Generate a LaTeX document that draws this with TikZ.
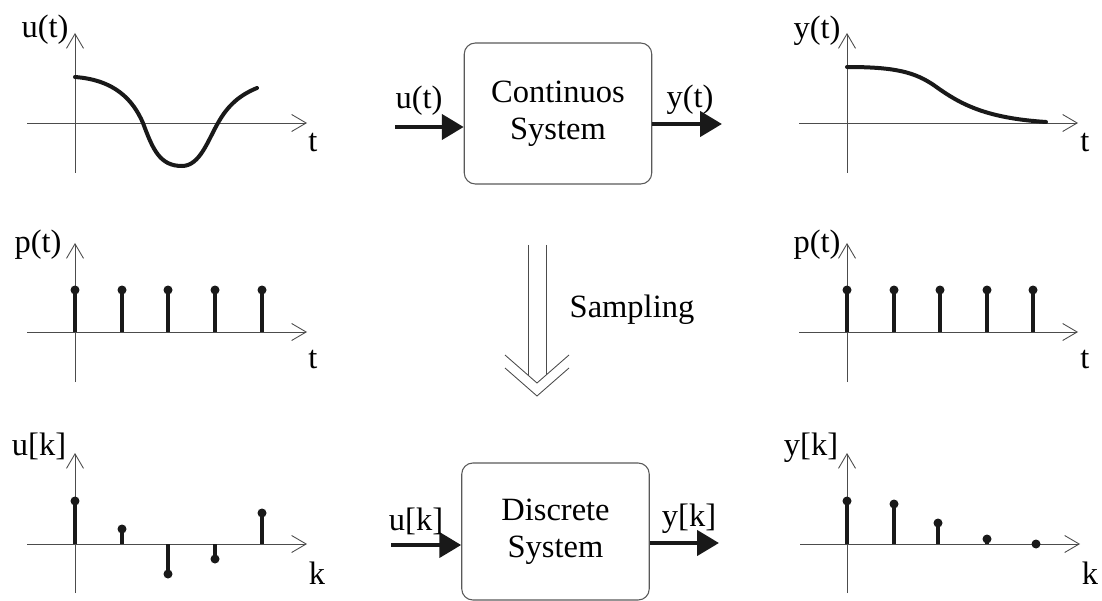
\documentclass[tikz,border=0pt]{standalone}
\usepackage{fontspec}
\setmainfont{Liberation Serif}
\usetikzlibrary{arrows.meta}

\tikzset{
  axis/.style={draw=black!70, line width=0.5pt,
    -{Straight Barb[length=2.9mm, width=3.4mm]}},
  curve/.style={line width=0.08cm, black!90, line cap=round},
  stem/.style={line width=0.07cm, black!90},
  sysbox/.style={draw=black!65, line width=0.6pt, rounded corners=0.22cm,
    minimum width=3.75cm, align=center, inner sep=0pt,
    font=\fontsize{18.5}{21}\selectfont},
  sigarrow/.style={line width=0.09cm, black!90,
    -{Triangle[length=4.4mm, width=5mm]}},
  lbl/.style={inner sep=0pt, font=\fontsize{18.5}{21}\selectfont},
  sampline/.style={draw=black!70, line width=0.5pt},
}

\begin{document}
\begin{tikzpicture}[x=0.02cm, y=-0.02cm]
        \useasboundingbox (0, 0) rectangle (1102, 601);
        % continuous input u(t)
        \draw[axis] (27, 123) -- (307, 123);
        \draw[axis] (75, 173) -- (75, 33);
        \node[lbl] (utlbl) at (45, 30) {u(t)};
        \node[lbl] (utaxis) at (313, 143) {t};
        \draw[curve] (75, 77) .. controls (115, 80) and (133, 100) .. (143, 123)
        .. controls (153, 150) and (160, 166) .. (182, 166)
        .. controls (200, 166) and (208, 140) .. (218, 123)
        .. controls (228, 105) and (240, 95) .. (257, 88);
        % continuous system
        \node[sysbox, minimum height=2.82cm] (contsys) at (558, 113.5)
        {Continuos\\System};
        \coordinate (uin) at (395, 127);
        \coordinate (yout) at (722, 124);
        \draw[sigarrow] (uin) -- (contsys.west |- uin);
        \draw[sigarrow] (contsys.east |- yout) -- (yout);
        \node[lbl] (uinlbl) at (419, 101) {u(t)};
        \node[lbl] (youtlbl) at (690, 100) {y(t)};
        % continuous output y(t)
        \draw[axis] (799, 123) -- (1078, 123);
        \draw[axis] (847, 173) -- (847, 33);
        \node[lbl] (ytlbl) at (817, 31) {y(t)};
        \node[lbl] (ytaxis) at (1085, 143) {t};
        \draw[curve] (847, 67) .. controls (895, 67) and (915, 72) .. (935, 86)
        .. controls (960, 104) and (985, 118) .. (1046, 122);
        % pulse train, left
        \draw[axis] (27, 332) -- (307, 332);
        \draw[axis] (75, 382) -- (75, 243);
        \node[lbl] (ptlbl) at (38, 245) {p(t)};
        \node[lbl] (ptaxis) at (313, 360) {t};
        \draw[stem] (75, 332) -- (75, 290);
        \draw[stem] (122, 332) -- (122, 290);
        \draw[stem] (168, 332) -- (168, 290);
        \draw[stem] (215, 332) -- (215, 290);
        \draw[stem] (262, 332) -- (262, 290);
        \fill[black!90] (75, 290) circle (0.09cm);
        \fill[black!90] (122, 290) circle (0.09cm);
        \fill[black!90] (168, 290) circle (0.09cm);
        \fill[black!90] (215, 290) circle (0.09cm);
        \fill[black!90] (262, 290) circle (0.09cm);
        % pulse train, right
        \draw[axis] (799, 332) -- (1078, 332);
        \draw[axis] (847, 382) -- (847, 243);
        \node[lbl] (ptlblr) at (817, 245) {p(t)};
        \node[lbl] (ptaxisr) at (1085, 360) {t};
        \draw[stem] (847, 332) -- (847, 290);
        \draw[stem] (894, 332) -- (894, 290);
        \draw[stem] (940, 332) -- (940, 290);
        \draw[stem] (987, 332) -- (987, 290);
        \draw[stem] (1033, 332) -- (1033, 290);
        \fill[black!90] (847, 290) circle (0.09cm);
        \fill[black!90] (894, 290) circle (0.09cm);
        \fill[black!90] (940, 290) circle (0.09cm);
        \fill[black!90] (987, 290) circle (0.09cm);
        \fill[black!90] (1033, 290) circle (0.09cm);
        % sampling arrow
        \coordinate (samptopl) at (528, 245);
        \coordinate (samptopr) at (546, 245);
        \coordinate (sampinl) at (528, 375);
        \coordinate (sampinr) at (546, 375);
        \draw[sampline] (samptopl) -- (sampinl);
        \draw[sampline] (samptopr) -- (sampinr);
        \draw[sampline] (505, 355) -- (537, 383) -- (569, 355);
        \draw[sampline] (505, 368) -- (537, 396) -- (569, 368);
        \node[lbl] (samplbl) at (632, 310) {Sampling};
        % discrete input u[k]
        \draw[axis] (27, 544) -- (307, 544);
        \draw[axis] (75, 593) -- (75, 453);
        \node[lbl] (uklbl) at (39, 446) {u[k]};
        \node[lbl] (ukaxis) at (317, 573) {k};
        \draw[stem] (75, 544) -- (75, 501);
        \draw[stem] (122, 544) -- (122, 529);
        \draw[stem] (168, 544) -- (168, 574);
        \draw[stem] (215, 544) -- (215, 559);
        \draw[stem] (262, 544) -- (262, 513);
        \fill[black!90] (75, 501) circle (0.09cm);
        \fill[black!90] (122, 529) circle (0.09cm);
        \fill[black!90] (168, 574) circle (0.09cm);
        \fill[black!90] (215, 559) circle (0.09cm);
        \fill[black!90] (262, 513) circle (0.09cm);
        % discrete system
        \node[sysbox, minimum height=2.74cm] (discsys) at (555.5, 531.5)
        {Discrete\\System};
        \coordinate (ukin) at (391, 545);
        \coordinate (ykout) at (719, 543);
        \draw[sigarrow] (ukin) -- (discsys.west |- ukin);
        \draw[sigarrow] (discsys.east |- ykout) -- (ykout);
        \node[lbl] (ukinlbl) at (416, 521) {u[k]};
        \node[lbl] (ykoutlbl) at (689, 519) {y[k]};
        % discrete output y[k]
        \draw[axis] (800, 544) -- (1080, 544);
        \draw[axis] (847, 593) -- (847, 453);
        \node[lbl] (yklbl) at (811, 448) {y[k]};
        \node[lbl] (ykaxis) at (1090, 573) {k};
        \draw[stem] (847, 544) -- (847, 501);
        \draw[stem] (894, 544) -- (894, 504);
        \draw[stem] (938, 544) -- (938, 523);
        \draw[stem] (987, 544) -- (987, 539);
        \fill[black!90] (847, 501) circle (0.09cm);
        \fill[black!90] (894, 504) circle (0.09cm);
        \fill[black!90] (938, 523) circle (0.09cm);
        \fill[black!90] (987, 539) circle (0.09cm);
        \fill[black!90] (1036, 544) circle (0.09cm);
      \end{tikzpicture}
\end{document}
